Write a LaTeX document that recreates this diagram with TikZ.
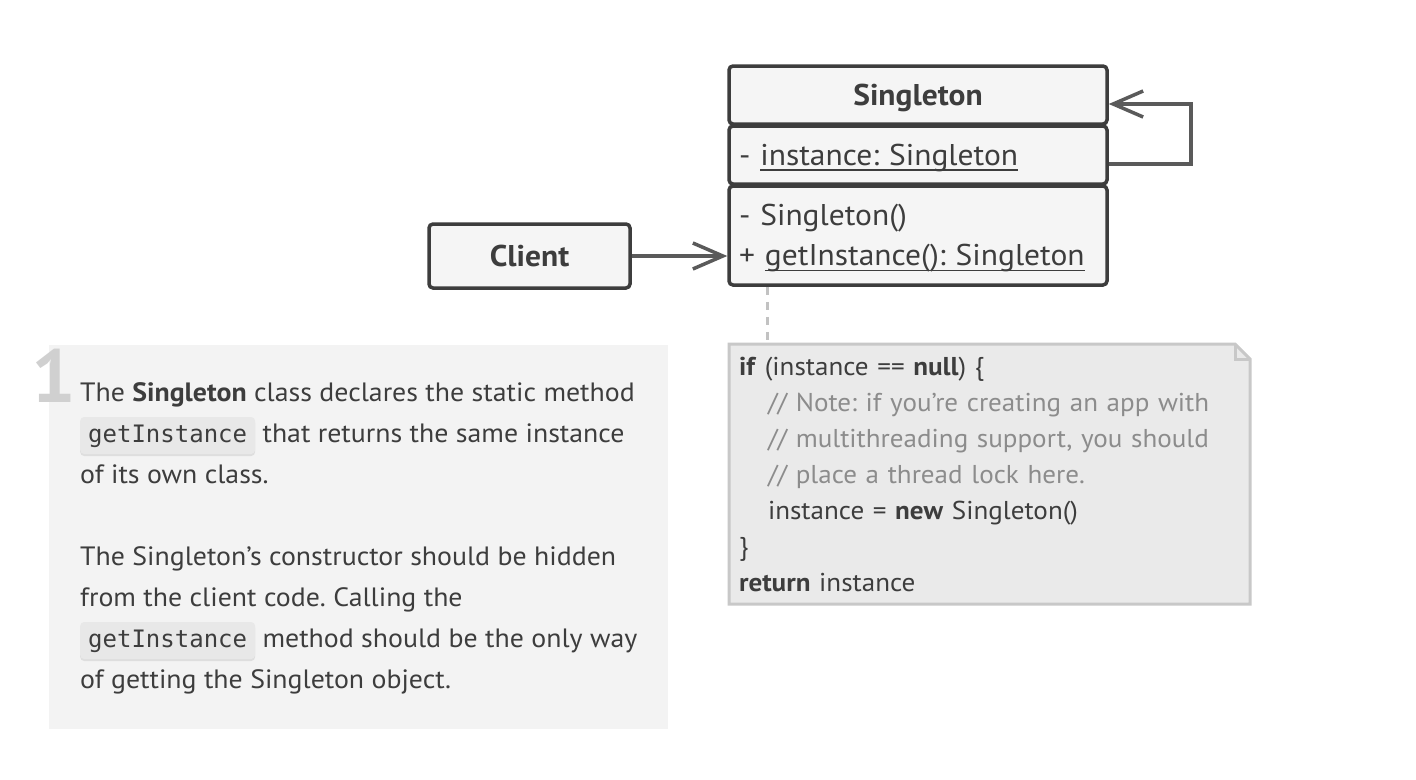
\documentclass[tikz,border=0pt]{standalone}
\usepackage{fontspec}
\setmainfont{PT Sans}[FakeStretch=1.05]
\setmonofont{DejaVu Sans Mono}
\usetikzlibrary{positioning,arrows.meta,calc,shadows,backgrounds}
\frenchspacing

\definecolor{inkdark}{HTML}{3D3D3D}
\definecolor{linegray}{HTML}{5A5A5A}
\definecolor{boxfill}{HTML}{F5F5F5}
\definecolor{notefill}{HTML}{EAEAEA}
\definecolor{noteline}{HTML}{C8C8C8}
\definecolor{panelfill}{HTML}{F3F3F3}
\definecolor{commentgray}{HTML}{8C8C8C}
\definecolor{pillfill}{HTML}{E8E8E8}
\definecolor{numgray}{HTML}{D0D0D0}

% underline at a fixed depth, as in the UML box
\newcommand\ulined[1]{\setbox0\hbox{#1}\rlap{\rule[-5.5pt]{\wd0}{1.8pt}}\box0}
% inline code chip
\newcommand\codepill[1]{\tikz[baseline=(p.base)]\node[pill](p){#1};}

\tikzset{
	pill/.style={
		anchor=base, fill=pillfill, rounded corners=4pt,
		inner xsep=8pt, inner ysep=0pt, text height=25pt, text depth=12pt,
		font=\ttfamily\fontsize{24}{24}\selectfont, text=inkdark,
		drop shadow={shadow xshift=0pt, shadow yshift=-2pt, opacity=1, fill=black!13}
	},
}

\begin{document}
\begin{tikzpicture}[x=1pt,y=-1pt,
	umlbox/.style={
		rectangle, rounded corners=4pt,
		draw=inkdark, line width=3.5pt, fill=boxfill, text=inkdark,
		font=\fontsize{30}{40}\selectfont, inner xsep=10pt, inner ysep=0pt
	},
	umlbold/.style={umlbox, font=\fontsize{30}{40}\selectfont\bfseries},
	compart/.style={minimum width=378pt, text height=27.5pt},
	conn/.style={draw=linegray, line width=3.5pt, -{Straight Barb[length=30pt,width=26pt]}},
	tie/.style={draw=black!24, line width=3.5pt, dash pattern=on 8pt off 7pt},
	noteedge/.style={draw=noteline, line width=3pt, fill=notefill},
	codetext/.style={inner xsep=10pt, text width=501pt, align=left, text=inkdark,
		font=\fontsize{25.8}{36}\selectfont},
	bodytext/.style={inner sep=0pt, align=left, text=inkdark, font=\fontsize{26.5}{41}\selectfont},
	stepnum/.style={inner sep=0pt, text=numgray, font=\fontsize{75}{75}\selectfont\bfseries},
	]
	\useasboundingbox (0,0) rectangle (1416,779);

	% class box
	\node [umlbold, compart, minimum height=58pt] (sgHead) at (918,95) {Singleton};
	\node [umlbox, compart, minimum height=58pt, text width=358pt, align=left,
		below=-1.5pt of sgHead] (sgAttr) {- \ulined{instance: Singleton}};
	\node [umlbox, compart, minimum height=99pt, text width=358pt, align=left,
		below=-1.5pt of sgAttr] (sgOps) {- Singleton()\\+ \ulined{getInstance(): Singleton}};

	\node [umlbold, minimum width=201pt, minimum height=64pt] (client) at (529.5,256) {Client};

	\path [conn] (client.east) -- (client.east -| sgOps.west);
	\path [conn] ([yshift=-9pt]sgAttr.east) -- ++(82,0) |- ([yshift=-9pt]sgHead.east);

	% code note
	\node [codetext, minimum width=521pt, minimum height=260pt, outer sep=0pt] (note) at (989.5,474) {%
		\textbf{if} (instance == \textbf{null}) \{\\
		\hspace*{29pt}\textcolor{commentgray}{// Note: if you’re creating an app with}\\
		\hspace*{29pt}\textcolor{commentgray}{// multithreading support, you should}\\
		\hspace*{29pt}\textcolor{commentgray}{// place a thread lock here.}\\
		\hspace*{29pt}instance = \textbf{new} Singleton()\\
		\}\\
		\textbf{return} instance};
	\begin{scope}[on background layer]
		\fill [white] (0,0) rectangle (1416,779);
		\path [noteedge] (note.north west) -- ([xshift=-15pt]note.north east)
			-- ([yshift=-15pt]note.north east) -- (note.south east) -- (note.south west) -- cycle;
	\end{scope}
	\draw [noteedge, fill=none] ([xshift=-15pt]note.north east) |- ([yshift=-15pt]note.north east);

	\coordinate (tieTop) at ($(sgOps.south west)+(40,0)$);
	\path [tie] (tieTop) -- (tieTop |- note.north);

	% explanation panel
	\node [fill=panelfill, minimum width=619pt, minimum height=384pt, inner sep=0pt] (panel) at (358.5,537) {};
	\node [stepnum, anchor=base west] (num) at (31,402) {1};
	\node [bodytext, anchor=base west] (desc) at (80,688) {%
		The \textbf{Singleton} class declares the static method\\
		\codepill{getInstance} that returns the same instance\\
		of its own class.\\[41pt]
		The Singleton’s constructor should be hidden\\
		from the client code. Calling the\\
		\codepill{getInstance} method should be the only way\\
		of getting the Singleton object.};
\end{tikzpicture}
\end{document}
